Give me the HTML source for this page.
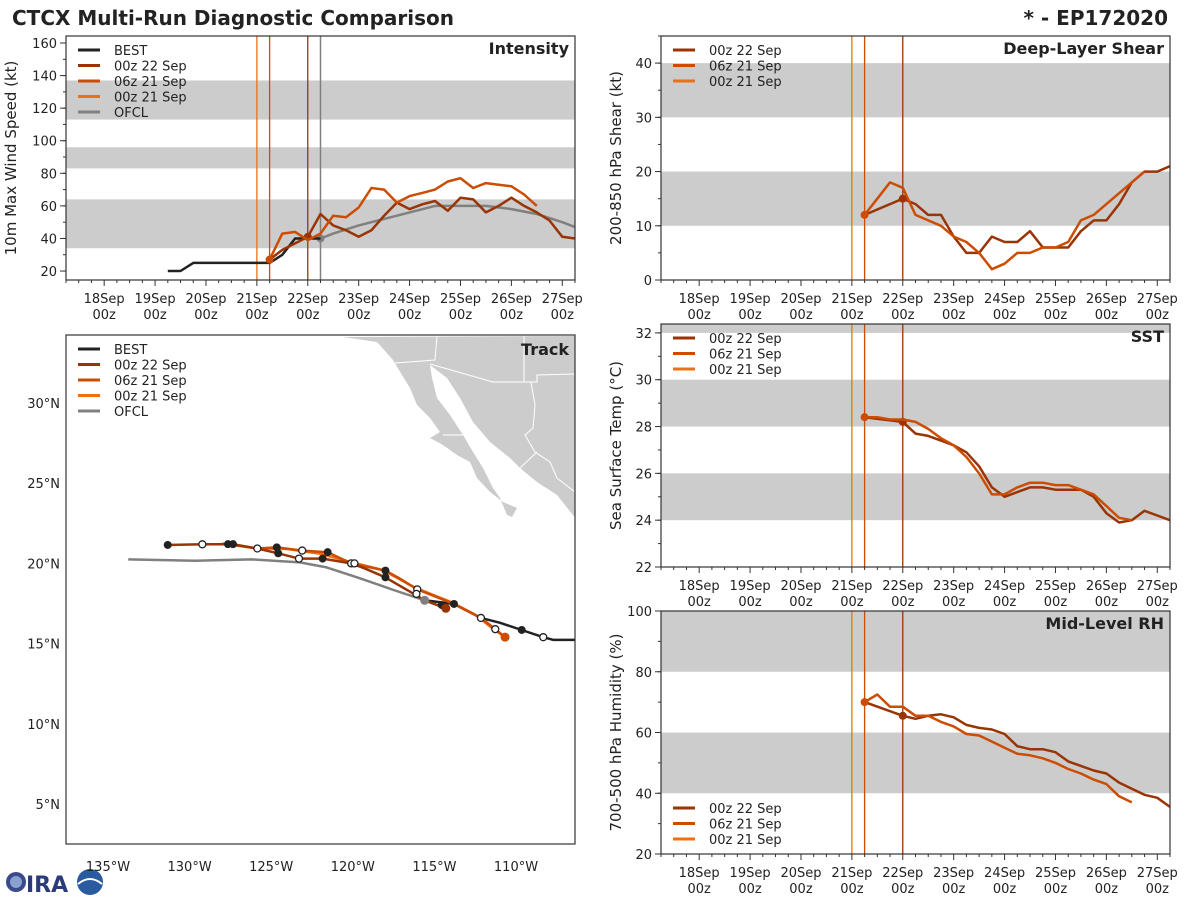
<!DOCTYPE html>
<html><head><meta charset="utf-8"><style>
body{margin:0;background:#fff;font-family:"DejaVu Sans","Liberation Sans",sans-serif;}
svg text{font-family:"DejaVu Sans","Liberation Sans",sans-serif;fill:#222;}
</style></head><body>
<svg id="c" width="1200" height="900" xmlns="http://www.w3.org/2000/svg">
<text x="12" y="25" font-size="20" font-weight="bold">CTCX Multi-Run Diagnostic Comparison</text>
<text x="1168" y="25" font-size="20" font-weight="bold" text-anchor="end">* - EP172020</text>
<g>
<circle cx="16" cy="882" r="10" fill="#3a4a8a"/><circle cx="16" cy="882" r="6" fill="#8aa0d0"/>
<text x="26" y="892" font-size="22" font-weight="bold" fill="#2a3a7a" style="fill:#2a3a7a">IRA</text>
<circle cx="90" cy="882" r="13" fill="#2a5aa0"/><path d="M78 884 q12 -10 24 0" stroke="#fff" stroke-width="2" fill="none"/>
</g>
</svg>
<script>
const COL={BEST:'#222222',R00z22:'#993404',R06z21:'#cc4c02',R00z21:'#ec7014',OFCL:'#808080'};
const dayLabels=['18Sep','19Sep','20Sep','21Sep','22Sep','23Sep','24Sep','25Sep','26Sep','27Sep'];
const initTimes=[3.0,3.25,4.0];
// Intensity (kt), 6-hourly from start time (days since 18Sep 00z)
const intBestStart=1.25;
const intBest=[20,20,25,25,25,25,25,25,25,30,40,40,40];
const int00z22Start=3.25;
const int00z22=[27,33,37,41,55,48,45,41,45,54,62,58,61,63,57,65,64,56,60,65,60,56,51,41,40];
const int06z21Start=3.25;
const int06z21=[27,43,44,39,43,54,53,59,71,70,62,66,68,70,75,77,71,74,73,72,67,60];
const intOfclT=[4.25,4.5,5,5.5,6,6.5,7,7.5,8,8.5,9,9.25];
const intOfcl=[40,43,48,52,56,60,60,60,58,55,50,47];
// Shear (kt)
const shr00z22=[12,null,null,15,14,12,12,8,5,5,8,7,7,9,6,6,6,9,11,11,14,18,20,20,21];
const shr06z21=[12,15,18,17,12,11,10,8,7,5,2,3,5,5,6,6,7,11,12,14,16,18,20];
// SST (C)
const sst00z22=[28.4,null,null,28.2,27.7,27.6,27.4,27.2,26.9,26.3,25.4,25.0,25.2,25.4,25.4,25.3,25.3,25.3,25.0,24.3,23.9,24.0,24.4,24.2,24.0];
const sst06z21=[28.4,28.4,28.3,28.3,28.2,27.9,27.5,27.2,26.7,26.0,25.1,25.1,25.4,25.6,25.6,25.5,25.5,25.3,25.1,24.6,24.1,24.0];
// RH (%)
const rh00z22=[70,null,null,65.5,64.5,65.5,66,65,62.5,61.5,61,59.5,55.5,54.5,54.5,53.5,50.5,49,47.5,46.5,43.5,41.5,39.5,38.5,35.5];
const rh06z21=[70,72.5,68.5,68.5,65.5,65.5,63.5,62,59.5,59,57,55,53,52.5,51.5,50,48,46.5,44.5,43,39,37];
// Track (lon, lat)
const trkBest=[[-106.4,15.23],[-107.7,15.23],[-108.33,15.4],[-109.65,15.85],[-111,16.3],[-112.15,16.6],[-113.8,17.47],[-115.6,17.7]];
const trk00z22=[[-114.3,17.2],[-115.6,17.7],[-116.6,18.3],[-118.0,19.13],[-119.3,19.7],[-120.1,20.0],[-121.85,20.3],[-123.3,20.3],[-124.57,20.63],[-125.85,20.93],[-127.34,21.2],[-129.22,21.19],[-131.34,21.15]];
const trk06z21=[[-110.67,15.4],[-111.27,15.9],[-112.15,16.6],[-113.8,17.47],[-116.05,18.38],[-117.2,19.1],[-118.0,19.55],[-120.1,20.0],[-121.54,20.7],[-123.1,20.8],[-124.66,21.0],[-125.85,20.93],[-127.65,21.2]];
const trk00z21=[[-110.67,15.4],[-111.5,16.0],[-112.5,16.8],[-114.0,17.6],[-116.2,18.5],[-118.2,19.6],[-120.0,20.05],[-122.0,20.6],[-124.0,20.9],[-126.0,20.95],[-128.0,21.25]];
const trkOfcl=[[-133.76,20.25],[-129.67,20.17],[-126.2,20.25],[-123.24,20.06],[-121.6,19.75],[-119.56,19.07],[-117.5,18.34],[-115.6,17.7]];
const trkBlackDots=[[-131.34,21.15],[-127.65,21.2],[-127.34,21.2],[-124.66,21.0],[-124.57,20.63],[-121.54,20.7],[-121.85,20.3],[-118.0,19.55],[-118.0,19.13],[-114.55,17.4],[-113.8,17.47],[-109.65,15.85]];
const trkWhiteDots=[[-129.22,21.19],[-125.85,20.93],[-123.1,20.8],[-123.3,20.3],[-120.1,20.0],[-119.9,20.0],[-116.05,18.38],[-116.1,18.1],[-112.15,16.6],[-111.27,15.9],[-108.33,15.4]];

const svg=document.getElementById('c');
const NS='http://www.w3.org/2000/svg';
function el(tag,attrs,parent){const e=document.createElementNS(NS,tag);for(const k in attrs)e.setAttribute(k,attrs[k]);(parent||svg).appendChild(e);return e;}

function timePanel(o){
  const g=el('g',{});
  
  
  const X=t=>o.x+(t+0.75)/10*o.w;
  const Y=v=>o.y+o.h-(v-o.ymin)/(o.ymax-o.ymin)*o.h;
  const clip='clip-'+o.name;
  const cp=el('clipPath',{id:clip},g);el('rect',{x:o.x,y:o.y,width:o.w,height:o.h},cp);
  o.bands.forEach(b=>{const r=el('rect',{x:o.x,y:Y(Math.min(b[1],o.ymax)),width:o.w,height:Y(b[0])-Y(Math.min(b[1],o.ymax)),fill:'#cccccc'},g);
    });
  const vc=[COL.R00z21,COL.R06z21,COL.R00z22];
  initTimes.forEach((t,i)=>{const l=el('line',{x1:X(t),x2:X(t),y1:o.y,y2:o.y+o.h,stroke:vc[i],'stroke-width':1.3},g);
    });
  if(o.ofclLine){const l=el('line',{x1:X(4.25),x2:X(4.25),y1:o.y,y2:o.y+o.h,stroke:COL.OFCL,'stroke-width':1.5},g);
    }
  const lg=el('g',{'clip-path':'url(#'+clip+')'},g);
  o.series.forEach(s=>{
    let d='';
    s.vals.forEach((v,i)=>{if(v==null)return;const t=s.times?s.times[i]:s.start+i*0.25;
      d+=(d===''?'M':'L')+X(t).toFixed(1)+' '+Y(v).toFixed(1)+' ';});
    const p=el('path',{d:d,fill:'none',stroke:s.color,'stroke-width':2.5,'stroke-linejoin':'round'},lg);
    
    if(s.dot!=null){const t0=s.times?s.times[0]:s.start;const c=el('circle',{cx:X(t0),cy:Y(s.vals[0]),r:4,fill:s.color},lg);
      }
    if(s.dot2!=null){const c=el('circle',{cx:X(s.dot2),cy:Y(s.vals[(s.dot2-s.start)/0.25]),r:4,fill:s.color},lg);
      }
  });
  el('rect',{x:o.x,y:o.y,width:o.w,height:o.h,fill:'none',stroke:'#333','stroke-width':1.2},g);
  for(let k=-3;k<=37;k++){const t=k*0.25;const x=X(t);if(x<o.x-0.5||x>o.x+o.w+0.5)continue;
    const major=(k%4===0);el('line',{x1:x,x2:x,y1:o.y+o.h,y2:o.y+o.h+(major?6:3),stroke:'#333','stroke-width':1},g);}
  dayLabels.forEach((lab,i)=>{const x=X(i);
    const t1=el('text',{x:x,y:o.y+o.h+23,'font-size':13,'text-anchor':'middle'},g);t1.textContent=lab;
    
    const t2=el('text',{x:x,y:o.y+o.h+39,'font-size':13,'text-anchor':'middle'},g);t2.textContent='00z';
    });
  for(let v=o.yminor0;v<=o.ymax;v+=o.yminor){const y=Y(v);if(y<o.y-0.5)continue;el('line',{x1:o.x,x2:o.x-3,y1:y,y2:y,stroke:'#333'},g);}
  o.yticks.forEach(v=>{const y=Y(v);el('line',{x1:o.x,x2:o.x-6,y1:y,y2:y,stroke:'#333'},g);
    const t=el('text',{x:o.x-9,y:y+5,'font-size':13,'text-anchor':'end'},g);t.textContent=v;
    });
  const yt=el('text',{x:0,y:0,'font-size':15,'text-anchor':'middle',transform:`translate(${o.ylabX},${o.y+o.h/2}) rotate(-90)`},g);
  yt.textContent=o.ylabel;
  const tt=el('text',{x:o.x+o.w-6,y:o.y+18,'font-size':16,'font-weight':'bold','text-anchor':'end'},g);
  tt.textContent=o.title;
  legend(g,o.x+12,o.legY,o.legend);
}
function legend(g,x,y,items){
  const lg=el('g',{},g);
  
  items.forEach((it,i)=>{const yy=y+i*15.5;
    el('line',{x1:x,x2:x+22,y1:yy,y2:yy,stroke:it[1],'stroke-width':3},lg);
    const t=el('text',{x:x+36,y:yy+5,'font-size':13},lg);t.textContent=it[0];
    });
}
const L5=[['BEST',COL.BEST],['00z 22 Sep',COL.R00z22],['06z 21 Sep',COL.R06z21],['00z 21 Sep',COL.R00z21],['OFCL',COL.OFCL]];
const L3=[['00z 22 Sep',COL.R00z22],['06z 21 Sep',COL.R06z21],['00z 21 Sep',COL.R00z21]];

timePanel({name:'intensity',x:66,y:36,w:509,h:244,ymin:14.5,ymax:164.3,bands:[[34,64],[83,96],[113,137]],ofclLine:true,
  yticks:[20,40,60,80,100,120,140,160],yminor:10,yminor0:20,ylabel:'10m Max Wind Speed (kt)',ylabX:16,title:'Intensity',legY:50,legend:L5,
  series:[{name:'ofcl',color:COL.OFCL,vals:intOfcl,times:intOfclT,dot:1},
   {name:'best',color:COL.BEST,vals:intBest,start:intBestStart},
   {name:'run-00z22',color:COL.R00z22,vals:int00z22,start:int00z22Start,dot2:4.0},
   {name:'run-06z21',color:COL.R06z21,vals:int06z21,start:int06z21Start,dot:1}]});
timePanel({name:'shear',x:661,y:36,w:509,h:244,ymin:0,ymax:45,bands:[[10,20],[30,40]],
  yticks:[0,10,20,30,40],yminor:5,yminor0:0,ylabel:'200-850 hPa Shear (kt)',ylabX:621,title:'Deep-Layer Shear',legY:50,legend:L3,
  series:[{name:'run-00z22',color:COL.R00z22,vals:shr00z22,start:3.25,dot2:4.0},
   {name:'run-06z21',color:COL.R06z21,vals:shr06z21,start:3.25,dot:1}]});
timePanel({name:'sst',x:661,y:324,w:509,h:243,ymin:22,ymax:32.38,bands:[[24,26],[28,30],[32,34]],
  yticks:[22,24,26,28,30,32],yminor:1,yminor0:22,ylabel:'Sea Surface Temp (°C)',ylabX:621,title:'SST',legY:338,legend:L3,
  series:[{name:'run-00z22',color:COL.R00z22,vals:sst00z22,start:3.25,dot2:4.0},
   {name:'run-06z21',color:COL.R06z21,vals:sst06z21,start:3.25,dot:1}]});
timePanel({name:'rh',x:661,y:611,w:509,h:243,ymin:20,ymax:100,bands:[[40,60],[80,100]],
  yticks:[20,40,60,80,100],yminor:10,yminor0:20,ylabel:'700-500 hPa Humidity (%)',ylabX:621,title:'Mid-Level RH',legY:808,legend:L3,
  series:[{name:'run-00z22',color:COL.R00z22,vals:rh00z22,start:3.25,dot2:4.0},
   {name:'run-06z21',color:COL.R06z21,vals:rh06z21,start:3.25,dot:1}]});

(function(){
  const x0=66,y0=335,w=509,h=509;
  const g=el('g',{});
  
  const LX=lon=>108+(lon+135)*16.32;
  const LY=lat=>403+(30-lat)*16.04;
  const cp=el('clipPath',{id:'clip-track'},g);el('rect',{x:x0,y:y0,width:w,height:h},cp);
  const cg=el('g',{'clip-path':'url(#clip-track)'},g);
  const land=el('polygon',{points:'343,337 377,342 393,360 402,375 410,388 417,405 430,418 440,432 430,438 443,445 457,455 470,462 477,478 490,492 503,502 517,508 512,517 507,515 500,498 493,488 483,468 473,452 463,435 450,415 437,398 432,378 430,365 447,378 460,398 473,422 490,442 510,458 520,468 537,482 557,495 573,515 575,518 575,336',fill:'#cccccc'},cg);
  
  const bd=(pts)=>{const p=el('polyline',{points:pts,fill:'none',stroke:'#fff','stroke-width':1},cg);
    };
  bd('395,363 435,360 437,336');
  bd('430,364 493,382 537,382 537,375 575,374');
  bd('524,335 524,382');
  bd('443,435 463,435');
  bd('531,382 535,405 533,428 525,435 535,452 550,462 557,478 575,492');
  bd('520,468 537,452');
  const tr=(name,pts,col)=>{const p=el('polyline',{points:pts.map(q=>LX(q[0]).toFixed(1)+','+LY(q[1]).toFixed(1)).join(' '),fill:'none',stroke:col,'stroke-width':2.5,'stroke-linejoin':'round'},cg);
    };
  tr('ofcl-track',trkOfcl,COL.OFCL);
  tr('best-track',trkBest,COL.BEST);
  tr('run-00z21-track',trk00z21,COL.R00z21);
  tr('run-06z21-track',trk06z21,COL.R06z21);
  tr('run-00z22-track',trk00z22,COL.R00z22);
  trkBlackDots.forEach(q=>{const c=el('circle',{cx:LX(q[0]),cy:LY(q[1]),r:4,fill:'#222'},cg);
    });
  trkWhiteDots.forEach(q=>{const c=el('circle',{cx:LX(q[0]),cy:LY(q[1]),r:3.5,fill:'#fff',stroke:'#222','stroke-width':1.3},cg);
    });
  [[trk00z22[0],COL.R00z22],[trk06z21[0],COL.R06z21],[trkOfcl[trkOfcl.length-1],COL.OFCL]].forEach(a=>{
    const c=el('circle',{cx:LX(a[0][0]),cy:LY(a[0][1]),r:4.5,fill:a[1]},cg);
    });
  el('rect',{x:x0,y:y0,width:w,height:h,fill:'none',stroke:'#333','stroke-width':1.2},g);
  [-135,-130,-125,-120,-115,-110].forEach(lon=>{const t=el('text',{x:LX(lon),y:871,'font-size':13,'text-anchor':'middle'},g);t.textContent=(-lon)+'°W';
    });
  [30,25,20,15,10,5].forEach(lat=>{const t=el('text',{x:60,y:LY(lat)+5,'font-size':13,'text-anchor':'end'},g);t.textContent=lat+'°N';
    });
  const tt=el('text',{x:x0+w-6,y:y0+20,'font-size':16,'font-weight':'bold','text-anchor':'end'},g);
  tt.textContent='Track';
  legend(g,x0+12,349,L5);
})();
</script>
</body></html>
